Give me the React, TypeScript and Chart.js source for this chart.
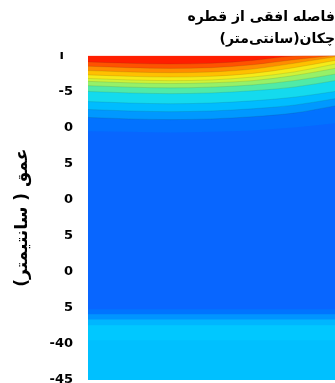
import React, { useEffect, useRef } from "react";
import { Chart, registerables } from "chart.js";

Chart.register(...registerables);

// Horizontal distance columns (cm)
const distances = [0, 5, 10, 15, 20, 25, 30];

// Depth (cm) of each contour boundary across the columns, top to bottom
const bTop = [0, 0, 0, 0, 0, 0, 0];
const b1 = [-0.9, -1.1, -1.2, -1.1, -0.7, -0.1, 0];
const b2 = [-1.5, -1.7, -1.8, -1.7, -1.3, -0.6, 0];
const b3 = [-2.1, -2.3, -2.4, -2.3, -1.9, -1.1, -0.2];
const b4 = [-2.7, -2.9, -3.0, -2.9, -2.5, -1.7, -0.7];
const b5 = [-3.2, -3.4, -3.5, -3.4, -3.0, -2.3, -1.2];
const b6 = [-3.6, -3.8, -3.9, -3.8, -3.5, -2.8, -1.8];
const b7 = [-4.2, -4.4, -4.5, -4.4, -4.1, -3.5, -2.6];
const b8 = [-5.0, -5.2, -5.3, -5.2, -4.9, -4.4, -3.5];
const b9 = [-6.4, -6.6, -6.7, -6.6, -6.3, -5.8, -5.0];
const b10 = [-7.5, -7.7, -7.8, -7.7, -7.4, -6.9, -6.0];
const b11 = [-8.6, -8.8, -8.9, -8.8, -8.5, -8.0, -7.0];
const b12 = [-10.5, -10.6, -10.7, -10.6, -10.4, -10.0, -9.4];
const b13 = [-35.2, -35.2, -35.2, -35.2, -35.2, -35.2, -35.2];
const b14 = [-35.9, -35.9, -35.9, -35.9, -35.9, -35.9, -35.9];
const b15 = [-36.6, -36.6, -36.6, -36.6, -36.6, -36.6, -36.6];
const b16 = [-37.4, -37.4, -37.4, -37.4, -37.4, -37.4, -37.4];
const b17 = [-39.5, -39.5, -39.5, -39.5, -39.5, -39.5, -39.5];

const boundaries = [bTop, b1, b2, b3, b4, b5, b6, b7, b8, b9, b10, b11, b12, b13, b14, b15, b16, b17];
// colour of the band lying below each boundary
const bandColors = [
  "#ff1e00", "#ff5200", "#ff8c00", "#ffc000", "#f6ea18", "#d0f238", "#96f068",
  "#50eaa8", "#14daee", "#00bcff", "#0098ff", "#0272ff", "#0866ff",
  "#0074ff", "#0094ff", "#00b6ff", "#00c8ff", "#00c0ff",
];
const contourLine = [false, true, true, true, true, true, true, true, true, true, true, true, false, false, false, false, false, false];

const tickValues = [0, -5, -10, -15, -20, -25, -30, -35, -40, -45];
const tickLabels = ["ı  ", "-5", "0", "5", "0", "5", "0", "5", "-40", "-45"];

const titleLines = ["فاصله افقی از قطره", "چکان(سانتی‌متر)"];
const yTitle = "عمق ( سانتیمتر)";

export default function App() {
  const ref = useRef<HTMLCanvasElement>(null);
  useEffect(() => {
    if (!ref.current) return;
    const datasets = boundaries
      .map((b, i) => ({
        label: "b" + i,
        data: distances.map((d, j) => ({ x: d, y: b[j] })),
        backgroundColor: bandColors[i],
        borderColor: contourLine[i] ? "rgba(40,60,40,0.16)" : "rgba(0,0,0,0)",
        borderWidth: contourLine[i] ? 0.8 : 0,
        pointRadius: 0,
        fill: "start",
        cubicInterpolationMode: "monotone" as const,
      }))
      .reverse();
    const chart = new Chart(ref.current, {
      type: "line",
      data: { datasets },
      options: {
        animation: false,
        responsive: false,
        devicePixelRatio: 1,
        layout: { padding: { left: 0, right: 0, top: 0, bottom: 3 } },
        plugins: {
          legend: { display: false },
          tooltip: { enabled: false },
          title: {
            display: true,
            text: titleLines,
            align: "end",
            color: "#000",
            font: { family: "'DejaVu Sans', sans-serif", size: 14, weight: "bold", lineHeight: 1.55 },
            padding: { top: 7, bottom: 5 },
          },
        },
        scales: {
          x: { type: "linear", min: 0, max: 30, display: false },
          y: {
            type: "linear",
            min: -45,
            max: 0,
            afterFit: (s: any) => {
              s.width = 88;
              s.paddingBottom = 3;
              s.paddingTop = 0;
            },
            afterBuildTicks: (s: any) => {
              s.ticks = tickValues.slice().reverse().map((v) => ({ value: v }));
            },
            grid: { display: false, drawTicks: false },
            border: { display: false },
            ticks: {
              padding: 15,
              color: "#000",
              font: { family: "'DejaVu Sans', sans-serif", size: 13, weight: "bold" },
              callback: (v: any) => {
                const i = tickValues.indexOf(Number(v));
                return i >= 0 ? tickLabels[i] : "";
              },
            },
            title: {
              display: true,
              text: yTitle,
              color: "#000",
              font: { family: "'DejaVu Sans', sans-serif", size: 17, weight: "bold" },
              padding: { top: 12, bottom: 0 },
            },
          },
        },
      },
    });
    return () => chart.destroy();
  }, []);
  return (
    <div style={{ position: "fixed", left: 0, top: 0, width: 335, height: 383 }}>
      <canvas ref={ref} width={335} height={383} />
    </div>
  );
}
